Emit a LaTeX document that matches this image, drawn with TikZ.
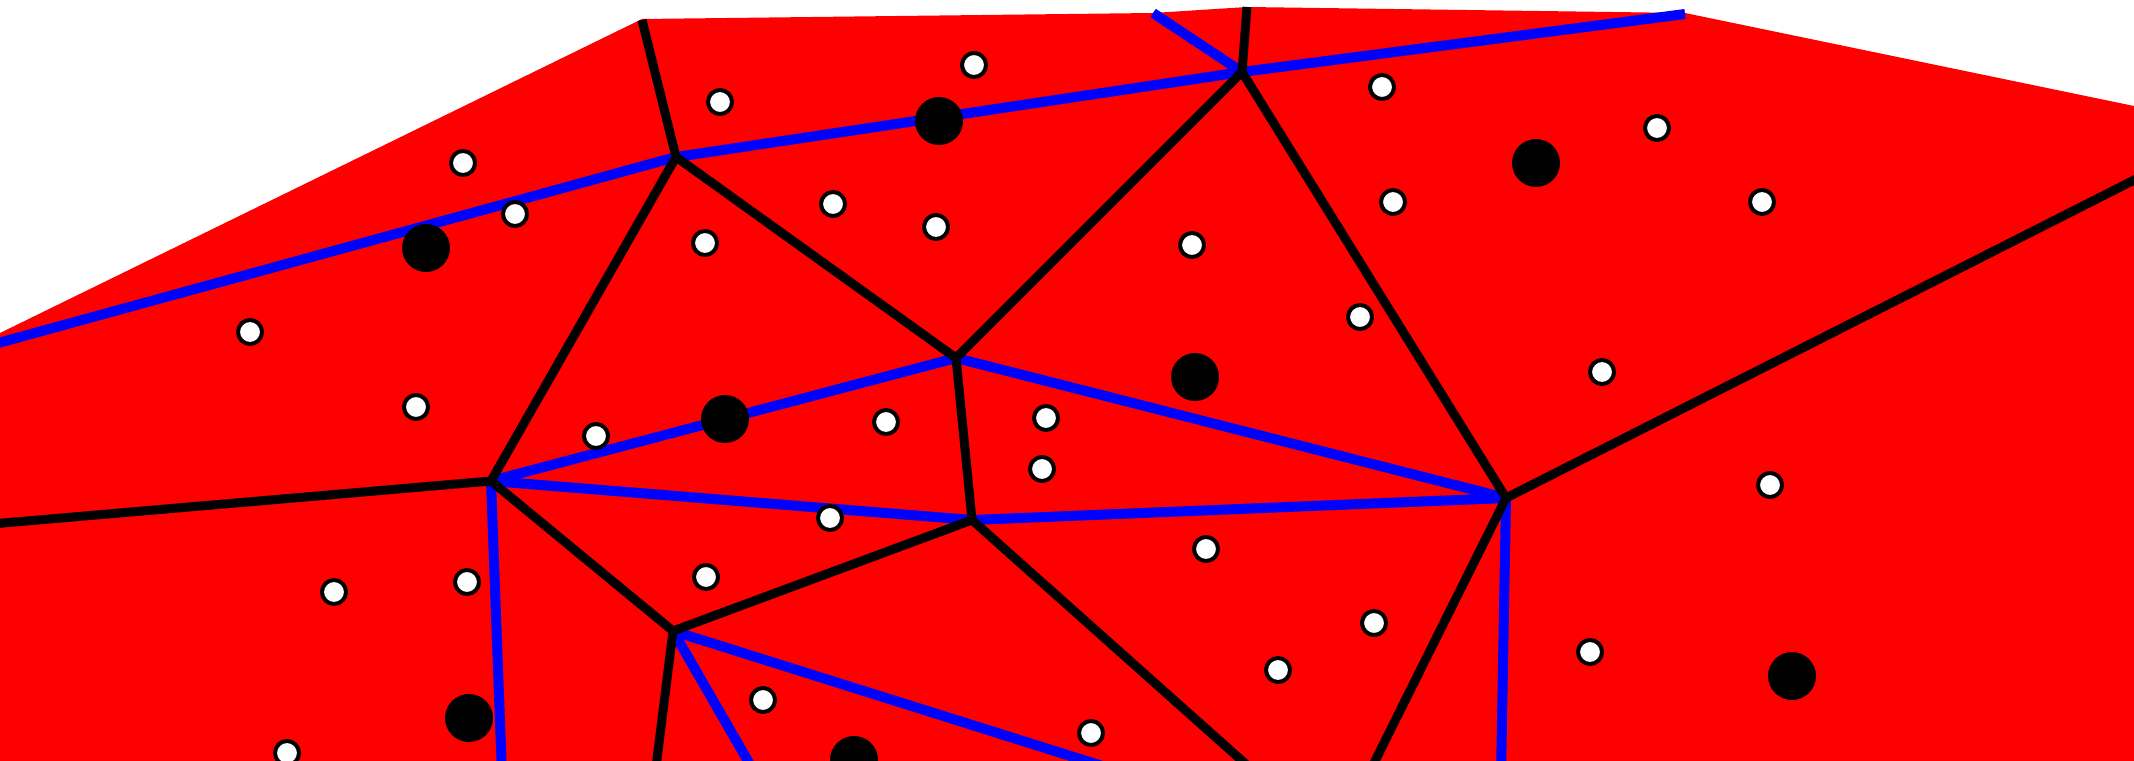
\documentclass[tikz,border=0pt]{standalone}
\begin{document}
\begin{tikzpicture}[x=0.01cm,y=-0.01cm,
  voro/.style={black,line width=0.09cm},
  dela/.style={blue,line width=0.1cm},
  site/.style={circle,fill=black,inner sep=0pt,minimum size=0.48cm},
  sample/.style={circle,draw=black,fill=white,line width=0.04cm,inner sep=0pt,minimum size=0.24cm}]
\clip (0,0) rectangle (2134,761);
% 红色区域
\fill[red] (0,333) -- (642,19) -- (1153,13) -- (1247,7) -- (1685,13) -- (2134,106) -- (2134,761) -- (0,761) -- cycle;
% 顶点
\coordinate (t1) at (642,20);
\coordinate (t2) at (1247,7);
\coordinate (v1) at (676,157);
\coordinate (v2) at (1242,72);
\coordinate (v3) at (956,358);
\coordinate (v4) at (491,481);
\coordinate (v6) at (972,520);
\coordinate (v7) at (673,631);
\coordinate (v8) at (1506,498);
\coordinate (el) at (-20,525);
\coordinate (er) at (2150,172);
\coordinate (bl) at (-20,348);
\coordinate (bt) at (1153,13);
\coordinate (br) at (1685,14);
\coordinate (d1) at (655,775);
\coordinate (d2) at (1258,775);
\coordinate (d3) at (1368,775);
\coordinate (d4) at (502,775);
\coordinate (d5) at (1501,775);
\coordinate (d6) at (756,775);
\coordinate (d7) at (1131,775);
% 蓝线
\draw[dela] (bl) -- (v1);
\draw[dela] (v1) -- (v2);
\draw[dela] (bt) -- (v2);
\draw[dela] (v2) -- (br);
\draw[dela] (v4) -- (v3);
\draw[dela] (v4) -- (v6);
\draw[dela] (v4) -- (d4);
\draw[dela] (v3) -- (v8);
\draw[dela] (v6) -- (v8);
\draw[dela] (v8) -- (d5);
\draw[dela] (v7) -- (d6);
\draw[dela] (v7) -- (d7);
% 黑线
\draw[voro] (t1) -- (v1);
\draw[voro] (v1) -- (v4);
\draw[voro] (v1) -- (v3);
\draw[voro] (t2) -- (v2);
\draw[voro] (v2) -- (v3);
\draw[voro] (v2) -- (v8);
\draw[voro] (v3) -- (v6);
\draw[voro] (v4) -- (el);
\draw[voro] (v4) -- (v7);
\draw[voro] (v7) -- (v6);
\draw[voro] (v7) -- (d1);
\draw[voro] (v6) -- (d2);
\draw[voro] (v8) -- (er);
\draw[voro] (v8) -- (d3);
% 黑点
\node[site] (s1) at (426,248) {};
\node[site] (s2) at (939,121) {};
\node[site] (s3) at (1536,163) {};
\node[site] (s4) at (1195,377) {};
\node[site] (s5) at (725,419) {};
\node[site] (s6) at (469,718) {};
\node[site] (s7) at (854,760) {};
\node[site] (s8) at (1792,676) {};
% 白点
\node[sample] (p1) at (720,102) {};
\node[sample] (p2) at (974,65) {};
\node[sample] (p3) at (463,163) {};
\node[sample] (p4) at (515,214) {};
\node[sample] (p5) at (250,332) {};
\node[sample] (p6) at (833,204) {};
\node[sample] (p7) at (936,227) {};
\node[sample] (p8) at (1192,245) {};
\node[sample] (p9) at (1382,87) {};
\node[sample] (p10) at (1393,202) {};
\node[sample] (p11) at (1360,317) {};
\node[sample] (p12) at (1657,128) {};
\node[sample] (p13) at (1762,202) {};
\node[sample] (p14) at (1602,372) {};
\node[sample] (p15) at (416,407) {};
\node[sample] (p16) at (596,436) {};
\node[sample] (p17) at (334,592) {};
\node[sample] (p18) at (467,582) {};
\node[sample] (p19) at (287,753) {};
\node[sample] (p20) at (706,577) {};
\node[sample] (p21) at (886,422) {};
\node[sample] (p22) at (1046,418) {};
\node[sample] (p23) at (1042,469) {};
\node[sample] (p24) at (830,518) {};
\node[sample] (p25) at (1206,549) {};
\node[sample] (p26) at (1374,623) {};
\node[sample] (p27) at (1278,670) {};
\node[sample] (p28) at (763,700) {};
\node[sample] (p29) at (1091,733) {};
\node[sample] (p30) at (1770,485) {};
\node[sample] (p31) at (1590,652) {};
\node[sample] (p32) at (705,243) {};
\end{tikzpicture}
\end{document}
